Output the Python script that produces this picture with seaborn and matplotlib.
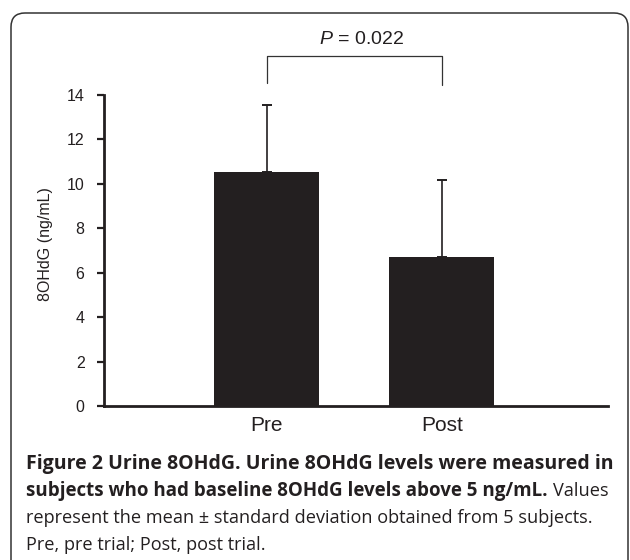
import matplotlib
matplotlib.use("Agg")
import matplotlib.pyplot as plt
import seaborn as sns
import pandas as pd
from matplotlib.patches import FancyBboxPatch

# data
groups = ["Pre", "Post"]
means = [10.55, 6.70]
sds = [3.00, 3.48]
y_ticks = [0, 2, 4, 6, 8, 10, 12, 14]
p_text = "$P$ = 0.022"
ylabel = "8OHdG (ng/mL)"

cap_line1 = "Figure 2 Urine 8OHdG. Urine 8OHdG levels were measured in"
cap_line2_bold = "subjects who had baseline 8OHdG levels above 5 ng/mL."
cap_line2_reg = "Values"
cap_line3 = "represent the mean \u00b1 standard deviation obtained from 5 subjects."
cap_line4 = "Pre, pre trial; Post, post trial."

ink = "#231f20"

sns.set_style("ticks")
plt.rcParams["font.family"] = ["Liberation Sans", "DejaVu Sans"]
plt.rcParams["mathtext.fontset"] = "custom"
plt.rcParams["mathtext.it"] = "Liberation Sans:italic"
plt.rcParams["mathtext.rm"] = "Liberation Sans"

W, H = 630, 560
fig = plt.figure(figsize=(6.3, 5.6), dpi=100)
fig.patch.set_facecolor("white")

# axes placed in pixel terms: x 104..608, y 95 (=14) .. 406 (=0)
ax = fig.add_axes([104 / W, (H - 406) / H, 504 / W, (406 - 95) / H])

df = pd.DataFrame({"group": groups, "mean": means})
sns.barplot(data=df, x="group", y="mean", color=ink, saturation=1, width=0.6,
            errorbar=None, linewidth=0, ax=ax)
ax.errorbar(x=[0, 1], y=means, yerr=[[0, 0], sds], fmt="none", ecolor=ink,
            elinewidth=1.2, capsize=3.5, capthick=1.4, zorder=1)

ax.set_ylim(0, 14)
ax.set_xlim(-0.931, 1.949)
ax.set_yticks(y_ticks)
ax.set_xlabel("")
ax.set_ylabel(ylabel, fontsize=11.5, color=ink)
ax.yaxis.set_label_coords(-0.101, 0.52)

sns.despine(ax=ax)
for s in ["left", "bottom"]:
    ax.spines[s].set_linewidth(2)
    ax.spines[s].set_color(ink)
ax.tick_params(axis="y", length=5, width=1.6, pad=9, labelsize=11.5,
               colors=ink, direction="out")
ax.tick_params(axis="x", length=0, pad=7, labelsize=15, colors=ink)

# significance bracket
ax.plot([0, 0, 1, 1], [14.54, 15.76, 15.76, 14.45], color="#333333",
        lw=0.9, clip_on=False)
ax.text(0.54, 16.5, p_text, ha="center", va="center", fontsize=14,
        color=ink, clip_on=False)

# rounded frame around the panel (display pixels)
frame = FancyBboxPatch((11, -30), 617, 577, boxstyle="round,pad=0,rounding_size=14",
                       transform=None, fill=False, edgecolor="#333333", lw=1.1)
fig.patches.append(frame)

# caption, sized so each line spans the width it has in the reference
cap_font = ["Open Sans", "DejaVu Sans"]
x0 = 26
renderer = fig.canvas.get_renderer()


def fit_size(txt, target, weight):
    t = fig.text(0, 0, txt, fontsize=12, fontweight=weight, family=cap_font)
    w = t.get_window_extent(renderer).width
    t.remove()
    return 12 * target / w


fs_bold = fit_size(cap_line1, 586, "bold")
fs_reg = fit_size(cap_line3, 566, "normal")

fig.text(x0 / W, 1 - 464 / H, cap_line1, fontsize=fs_bold, fontweight="bold",
         family=cap_font, va="center", color=ink)
fs_b2 = min(fs_bold, fit_size(cap_line2_bold, 521, "bold"))
t2 = fig.text(x0 / W, 1 - 491 / H, cap_line2_bold, fontsize=fs_b2, fontweight="bold",
              family=cap_font, va="center", color=ink)
x_end = t2.get_window_extent(renderer).x1
fig.text((x_end + 5) / W, 1 - 491 / H, cap_line2_reg, fontsize=fs_reg,
         family=cap_font, va="center", color=ink)
fig.text(x0 / W, 1 - 518 / H, cap_line3, fontsize=fs_reg, family=cap_font,
         va="center", color=ink)
fig.text(x0 / W, 1 - 545 / H, cap_line4, fontsize=fs_reg, family=cap_font,
         va="center", color=ink)

fig.savefig("out.png", dpi=100)
